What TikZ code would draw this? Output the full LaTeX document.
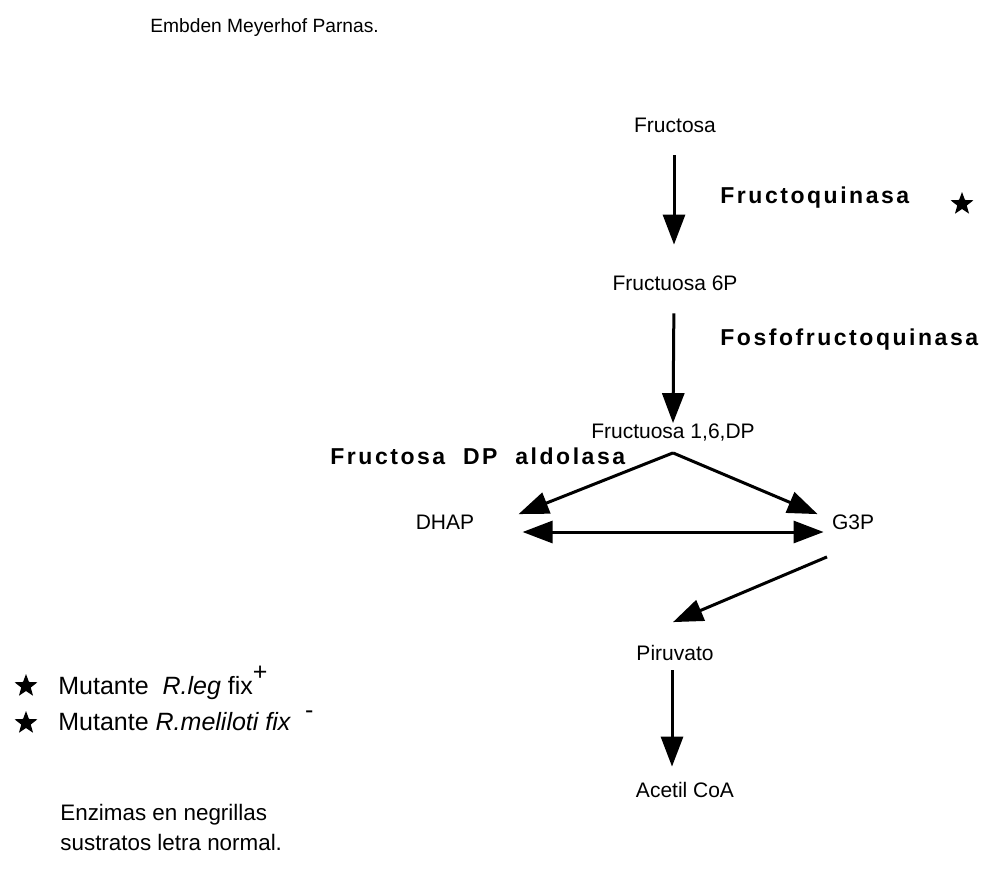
\documentclass[tikz,border=0pt]{standalone}
\usepackage{fontspec}
\setmainfont{Liberation Sans}
\newfontfamily\enzfont[LetterSpace=11]{Liberation Sans}
\usepackage{tikz}
\usetikzlibrary{arrows.meta,shapes.geometric}

\tikzset{
  sustrato/.style={inner sep=0pt,text height=7.5pt,text depth=2pt,font=\fontsize{10.5}{12}\selectfont},
  enzima/.style={anchor=west,inner sep=0pt,font=\enzfont\bfseries\fontsize{11.5}{12}\selectfont},
  nota/.style={anchor=west,inner sep=0pt,font=\fontsize{11.2}{15}\selectfont},
  paso/.style={line width=1.5pt,-{Triangle[length=15pt,width=11pt]}},
  estrella/.style={star,star points=5,star point ratio=2.4,fill=black,inner sep=0pt,minimum size=12pt}
}

\begin{document}
\begin{tikzpicture}[x=0.5pt,y=-0.5pt]
			%%%%% START %%%%%
			\useasboundingbox (0,0) rectangle (994,872);
			
			\node[nota, font=\fontsize{9.6}{12}\selectfont] (titulo) at (150,28) {Embden Meyerhof Parnas.};
			
			\node[sustrato] (fru) at (675,127) {Fructosa};
			\node[sustrato] (f6p) at (675,285) {Fructuosa 6P};
			\node[sustrato] (f16dp) at (673,433) {Fructuosa 1,6,DP};
			\node[sustrato] (dhap) at (445,524) {DHAP};
			\node[sustrato] (g3p) at (853,524) {G3P};
			\node[sustrato] (piru) at (675,655) {Piruvato};
			\node[sustrato] (acoa) at (685,792) {Acetil CoA};
			
			\node[enzima] (fq) at (720,198) {Fructoquinasa};
			\node[estrella] (fqstar) at (962,204) {};
			\node[enzima] (pfk) at (720,340) {Fosfofructoquinasa};
			\node[enzima] (ald) at (330,456) {Fructosa\ \ DP\ \ aldolasa};
			
			\draw[paso, shorten <=9.25pt, shorten >=15.25pt] ([xshift=-0.5pt]fru.south) -- ([xshift=-0.5pt]f6p.north);
			\draw[paso, shorten <=9.25pt] ([xshift=-0.5pt]f6p.south) -- (f16dp.north);
			
			\draw[paso] ([yshift=-5pt]f16dp.south) -- ([xshift=22pt]dhap.north east);
			\draw[paso] ([yshift=-5pt]f16dp.south) -- ([xshift=-7pt]g3p.north west);
			\draw[paso, {Triangle[length=15pt,width=11pt]}-{Triangle[length=15pt,width=11pt]}] ([xshift=24pt,yshift=-4pt]dhap.east) -- ([xshift=-4pt,yshift=-4pt]g3p.west);
			\draw[paso] ([xshift=-13pt,yshift=-11.5pt]g3p.south) -- ([xshift=-1pt,yshift=11.5pt]piru.north);
			\draw[paso, shorten <=2.75pt, shorten >=7.75pt] ([xshift=-1.5pt]piru.south) -- ([xshift=-1.5pt]piru.south |- acoa.north);
			
			% leyenda
			\node[estrella] (s1) at (26,686) {};
			\node[nota, font=\fontsize{12.5}{15}\selectfont] (mut1) at (58,683) {Mutante\ \ \textit{R.leg} fix\raisebox{1.1ex}{+}};
			\node[estrella] (s2) at (26,723) {};
			\node[nota, font=\fontsize{12.5}{15}\selectfont] (mut2) at (58,721) {Mutante \textit{R.meliloti fix}\ \ \raisebox{0.9ex}{-}};
			
			\node[nota,align=left] (pie) at (60,827) {Enzimas en negrillas\\sustratos letra normal.};
			%%%%% END %%%%%
\end{tikzpicture}
\end{document}
